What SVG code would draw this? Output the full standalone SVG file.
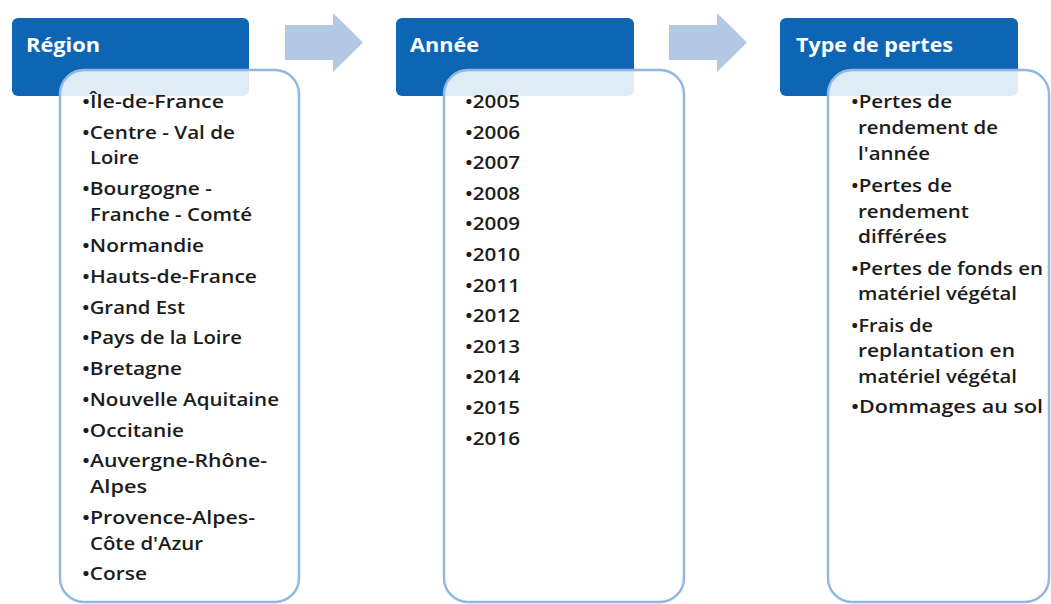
<svg xmlns="http://www.w3.org/2000/svg" width="1051" height="604" viewBox="0 0 1051 604">
<style>
.hdr{fill:#0e65b3}
.card{fill:#ffffff;fill-opacity:0.87;stroke:#8fb9e4;stroke-width:2.5}
.ht{font-family:"Open Sans",Lato,"Liberation Sans",sans-serif;font-weight:bold;font-size:20px;fill:#ffffff}
.t{font-family:"Open Sans",Lato,"Liberation Sans",sans-serif;font-weight:600;font-size:17.5px;fill:#1c1c1c}
.arrow{fill:#b3c8e5}
</style>
<rect width="1051" height="604" fill="#ffffff"/>
<g id="connectors">
<path class="arrow" d="M285,25 H333 V13 L363,42.5 L333,72 V60 H285 Z"/>
<path class="arrow" d="M669,25 H717 V13 L747,42.5 L717,72 V60 H669 Z"/>
</g>
<g id="region">
<rect class="hdr" x="12" y="18" width="237" height="78" rx="6"/>
<text class="ht" x="26" y="52" textLength="74" lengthAdjust="spacingAndGlyphs">Région</text>
<rect class="card" x="60" y="70" width="239" height="532" rx="24"/>
<text class="t" x="82" y="108" textLength="142" lengthAdjust="spacingAndGlyphs">•Île-de-France</text>
<text class="t" x="82" y="138.5" textLength="153" lengthAdjust="spacingAndGlyphs">•Centre - Val de</text>
<text class="t" x="90" y="164" textLength="49" lengthAdjust="spacingAndGlyphs">Loire</text>
<text class="t" x="82" y="195" textLength="130" lengthAdjust="spacingAndGlyphs">•Bourgogne -</text>
<text class="t" x="90" y="221" textLength="162" lengthAdjust="spacingAndGlyphs">Franche - Comté</text>
<text class="t" x="82" y="252" textLength="122" lengthAdjust="spacingAndGlyphs">•Normandie</text>
<text class="t" x="82" y="283" textLength="175" lengthAdjust="spacingAndGlyphs">•Hauts-de-France</text>
<text class="t" x="82" y="313.5" textLength="103" lengthAdjust="spacingAndGlyphs">•Grand Est</text>
<text class="t" x="82" y="344" textLength="160" lengthAdjust="spacingAndGlyphs">•Pays de la Loire</text>
<text class="t" x="82" y="375" textLength="100" lengthAdjust="spacingAndGlyphs">•Bretagne</text>
<text class="t" x="82" y="406" textLength="197" lengthAdjust="spacingAndGlyphs">•Nouvelle Aquitaine</text>
<text class="t" x="82" y="437" textLength="102" lengthAdjust="spacingAndGlyphs">•Occitanie</text>
<text class="t" x="82" y="467" textLength="185" lengthAdjust="spacingAndGlyphs">•Auvergne-Rhône-</text>
<text class="t" x="90" y="493" textLength="57" lengthAdjust="spacingAndGlyphs">Alpes</text>
<text class="t" x="82" y="524" textLength="173" lengthAdjust="spacingAndGlyphs">•Provence-Alpes-</text>
<text class="t" x="90" y="549.5" textLength="113" lengthAdjust="spacingAndGlyphs">Côte d'Azur</text>
<text class="t" x="82" y="580" textLength="65" lengthAdjust="spacingAndGlyphs">•Corse</text>
</g>
<g id="annee">
<rect class="hdr" x="396" y="18" width="238" height="78" rx="6"/>
<text class="ht" x="410" y="52" textLength="69" lengthAdjust="spacingAndGlyphs">Année</text>
<rect class="card" x="444" y="70" width="240" height="532" rx="24"/>
<text class="t" x="465" y="108" textLength="55" lengthAdjust="spacingAndGlyphs">•2005</text>
<text class="t" x="465" y="138.6" textLength="55" lengthAdjust="spacingAndGlyphs">•2006</text>
<text class="t" x="465" y="169.2" textLength="55" lengthAdjust="spacingAndGlyphs">•2007</text>
<text class="t" x="465" y="199.8" textLength="55" lengthAdjust="spacingAndGlyphs">•2008</text>
<text class="t" x="465" y="230.4" textLength="55" lengthAdjust="spacingAndGlyphs">•2009</text>
<text class="t" x="465" y="261" textLength="55" lengthAdjust="spacingAndGlyphs">•2010</text>
<text class="t" x="465" y="291.6" textLength="55" lengthAdjust="spacingAndGlyphs">•2011</text>
<text class="t" x="465" y="322.2" textLength="55" lengthAdjust="spacingAndGlyphs">•2012</text>
<text class="t" x="465" y="352.8" textLength="55" lengthAdjust="spacingAndGlyphs">•2013</text>
<text class="t" x="465" y="383.4" textLength="55" lengthAdjust="spacingAndGlyphs">•2014</text>
<text class="t" x="465" y="414" textLength="55" lengthAdjust="spacingAndGlyphs">•2015</text>
<text class="t" x="465" y="444.6" textLength="55" lengthAdjust="spacingAndGlyphs">•2016</text>
</g>
<g id="type-de-pertes">
<rect class="hdr" x="780" y="18" width="238" height="78" rx="6"/>
<text class="ht" x="796" y="52" textLength="157" lengthAdjust="spacingAndGlyphs">Type de pertes</text>
<rect class="card" x="828" y="70" width="221" height="532" rx="24"/>
<text class="t" x="851" y="108" textLength="101" lengthAdjust="spacingAndGlyphs">•Pertes de</text>
<text class="t" x="858" y="134" textLength="140" lengthAdjust="spacingAndGlyphs">rendement de</text>
<text class="t" x="858" y="160" textLength="72" lengthAdjust="spacingAndGlyphs">l'année</text>
<text class="t" x="851" y="192" textLength="101" lengthAdjust="spacingAndGlyphs">•Pertes de</text>
<text class="t" x="858" y="217.5" textLength="111" lengthAdjust="spacingAndGlyphs">rendement</text>
<text class="t" x="858" y="243" textLength="89" lengthAdjust="spacingAndGlyphs">différées</text>
<text class="t" x="851" y="275" textLength="192" lengthAdjust="spacingAndGlyphs">•Pertes de fonds en</text>
<text class="t" x="858" y="300" textLength="159" lengthAdjust="spacingAndGlyphs">matériel végétal</text>
<text class="t" x="851" y="332" textLength="82" lengthAdjust="spacingAndGlyphs">•Frais de</text>
<text class="t" x="858" y="357" textLength="157" lengthAdjust="spacingAndGlyphs">replantation en</text>
<text class="t" x="858" y="382.5" textLength="159" lengthAdjust="spacingAndGlyphs">matériel végétal</text>
<text class="t" x="851" y="413" textLength="192" lengthAdjust="spacingAndGlyphs">•Dommages au sol</text>
</g>
</svg>
